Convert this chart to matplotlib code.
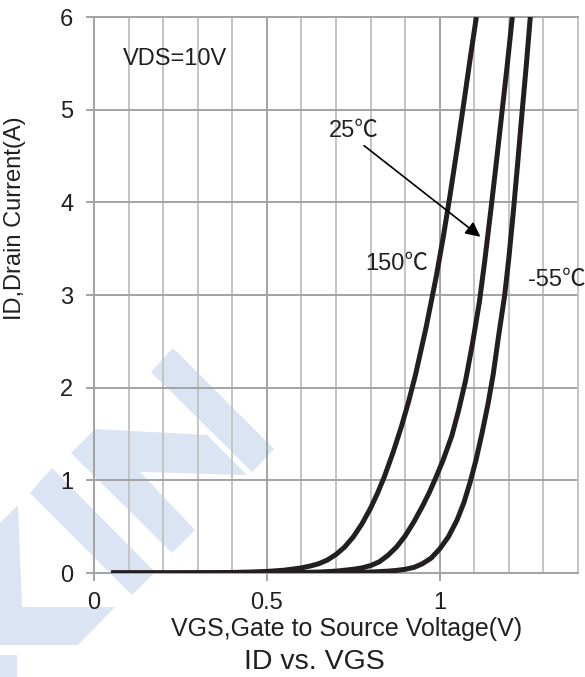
import numpy as np
import matplotlib.pyplot as plt
from matplotlib.patches import Polygon

# Curvas ID x VGS (VDS = 10 V)
vgs_150 = [0.05, 0.2, 0.3, 0.4, 0.45, 0.5, 0.55, 0.6, 0.625, 0.65, 0.675, 0.7, 0.725, 0.75, 0.775,
           0.8, 0.82, 0.84, 0.865, 0.89, 0.91, 0.93, 0.96, 0.99, 1.01, 1.03, 1.05, 1.07, 1.09, 1.106]
id_150 = [0, 0, 0.002, 0.006, 0.01, 0.017, 0.03, 0.055, 0.075, 0.1, 0.14, 0.2, 0.28, 0.39, 0.53,
          0.7, 0.86, 1.04, 1.3, 1.59, 1.85, 2.14, 2.64, 3.2, 3.62, 4.08, 4.57, 5.08, 5.6, 6.0]

vgs_25 = [0.05, 0.4, 0.5, 0.6, 0.65, 0.7, 0.75, 0.775, 0.8, 0.825, 0.85, 0.875, 0.9, 0.925, 0.95,
          0.97, 0.99, 1.01, 1.035, 1.055, 1.075, 1.095, 1.115, 1.13, 1.148, 1.165, 1.18, 1.195, 1.21]
id_25 = [0, 0, 0.002, 0.006, 0.01, 0.02, 0.04, 0.055, 0.08, 0.12, 0.19, 0.28, 0.4, 0.55, 0.72,
         0.87, 1.04, 1.22, 1.48, 1.76, 2.08, 2.48, 2.93, 3.36, 3.92, 4.47, 4.97, 5.47, 6.0]

vgs_m55 = [0.05, 0.6, 0.7, 0.8, 0.85, 0.875, 0.9, 0.925, 0.95, 0.975, 1.0, 1.025, 1.05, 1.07, 1.088,
           1.105, 1.123, 1.14, 1.155, 1.17, 1.188, 1.2, 1.213, 1.225, 1.237, 1.25, 1.262]
id_m55 = [0, 0, 0.003, 0.01, 0.02, 0.028, 0.04, 0.06, 0.1, 0.16, 0.26, 0.39, 0.57, 0.76, 0.98,
          1.22, 1.52, 1.83, 2.15, 2.55, 3.0, 3.4, 3.9, 4.4, 4.92, 5.46, 6.0]

x_ticks = [0, 0.5, 1]
x_tick_labels = ['0', '0.5', '1']
y_ticks = [0, 1, 2, 3, 4, 5, 6]

W, H = 585, 677
fam = ['Liberation Sans', 'Noto Sans CJK SC', 'DejaVu Sans']
plt.rcParams['font.family'] = fam
txt = '#231f20'

fig = plt.figure(figsize=(W / 100, H / 100), dpi=100)

# marca d'agua azul clara (coordenadas em pixels)
marca = [
    [(151, 372), (173, 348), (274, 449), (252, 472)],
    [(71, 453), (95, 429), (207, 435), (247, 475), (140, 472), (195, 530), (172, 553)],
    [(30, 493), (52, 468), (155, 572), (132, 595)],
    [(0, 523), (18, 505), (22, 607), (115, 607), (78, 645), (0, 645)],
    [(0, 655), (17, 655), (17, 677), (0, 677)],
]
for pts in marca:
    p = Polygon([(x / W, 1 - y / H) for x, y in pts], closed=True,
                transform=fig.transFigure, facecolor='#dbe4f2', edgecolor='none', zorder=0)
    fig.patches.append(p)

ax = fig.add_axes([94 / W, 1 - 573 / H, 484 / W, 556 / H])
ax.set_facecolor('none')
ax.set_zorder(1)

for xs, ys in [(vgs_150, id_150), (vgs_25, id_25), (vgs_m55, id_m55)]:
    ax.plot(xs, ys, color='#231f20', lw=3.6, solid_capstyle='butt',
            solid_joinstyle='round', zorder=3)

ax.set_xlim(0, 1.4)
ax.set_ylim(0, 6)
ax.set_xticks(x_ticks)
ax.set_xticklabels(x_tick_labels)
ax.set_xticks(np.arange(0.1, 1.4, 0.1), minor=True)
ax.set_yticks(y_ticks)

ax.grid(which='major', color='#a3a3a3', lw=1.4, zorder=1)
ax.grid(which='minor', axis='x', color='#c4c4c6', lw=1.4, zorder=1)
ax.tick_params(which='major', length=6, width=1.4, color='#a3a3a3', labelsize=17,
               labelcolor=txt)
ax.tick_params(axis='x', which='major', pad=8)
ax.tick_params(axis='y', which='major', pad=9)
ax.tick_params(which='minor', length=0)
for s in ['left', 'bottom', 'top']:
    ax.spines[s].set_color('#a3a3a3')
    ax.spines[s].set_linewidth(1.4)
ax.spines['right'].set_color('#c4c4c6')
ax.spines['right'].set_linewidth(1.4)

ax.text(0.084, 5.545, 'VDS=10V', fontsize=17, color=txt, va='center', ha='left')
ax.text(0.679, 4.77, '25℃', fontsize=17, color=txt, va='center', ha='left')
ax.text(0.786, 3.33, '150℃', fontsize=17, color=txt, va='center', ha='left')
ax.text(1.254, 3.16, '-55℃', fontsize=17, color=txt, va='center', ha='left', clip_on=False)
ax.annotate('', xy=(1.124, 3.61), xytext=(0.775, 4.63),
            arrowprops=dict(arrowstyle='-|>', color='black', lw=1.2, mutation_scale=22))

ax.set_ylabel('ID,Drain Current(A)', fontsize=17, color=txt)
ax.yaxis.set_label_coords(-0.163, (573 - 218) / 556)
ax.set_xlabel('VGS,Gate to Source Voltage(V)', fontsize=18, color=txt)
ax.xaxis.set_label_coords((347 - 94) / 484, -(629 - 573) / 556)
ax.xaxis.label.set_va('center')
ax.yaxis.label.set_va('center')

fig.text(314 / W, 1 - 662 / H, 'ID vs. VGS', fontsize=20.5, color=txt, ha='center', va='center')

fig.savefig('out.png', dpi=100)
